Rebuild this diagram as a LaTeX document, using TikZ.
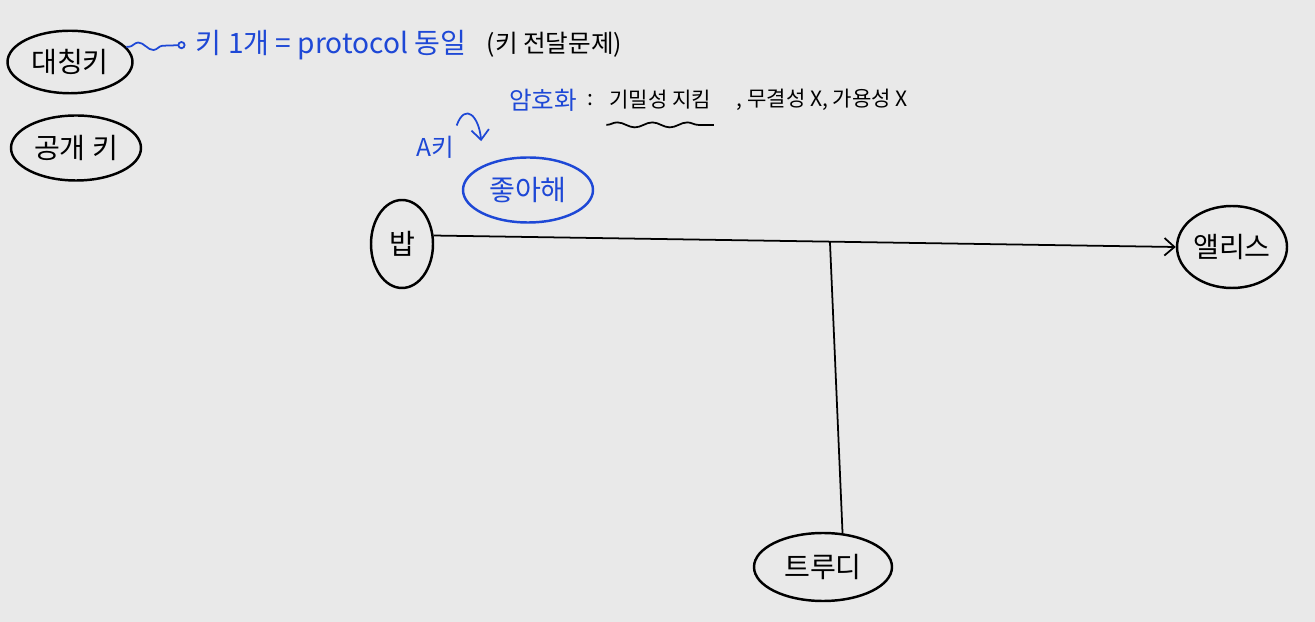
\documentclass[tikz,border=0pt]{standalone}
\usepackage{fontspec}
\setmainfont{Noto Sans CJK KR}
\usepackage{tikz}
\usetikzlibrary{positioning, shapes.geometric, decorations.pathmorphing, arrows.meta}
\definecolor{pen}{RGB}{30,72,214}
\definecolor{board}{RGB}{233,233,233}
\tikzset{%
	person/.style={draw, ellipse, line width=1.4pt, inner sep=0mm, font=\fontsize{16}{18}\selectfont},
	topic/.style={person, minimum width=25mm, minimum height=12.5mm},
	msg/.style={person, draw=pen, text=pen},
	memo/.style={inner sep=0.5mm, font=\fontsize{14}{16}\selectfont},
	bluememo/.style={memo, text=pen},
	small/.style={memo, font=\fontsize{12}{14}\selectfont},
	wire/.style={line width=1pt},
	sel/.style={wire, -{Straight Barb[length=2mm,width=3.5mm]}},
	wave/.style={decorate, decoration={snake, amplitude=0.5mm, segment length=7mm}}
}

\begin{document}
\begin{tikzpicture}[x=0.2mm, y=-0.2mm]
	\fill[board] (0,0) rectangle (1315,622);
	\useasboundingbox (0,0) rectangle (1315,622);

	% kinds of keys
	\node[topic] (sym) at (70,62) {대칭키};
	\node[topic, minimum width=26mm, minimum height=13mm] (pub) at (76,148) {공개 키};
	\node[bluememo, font=\fontsize{16}{18}\selectfont] (onekey) at (331,45) {키 1개 = protocol 동일};
	\node[memo, right=3mm of onekey] (handoff) {(키 전달문제)};

	% encryption note
	\node[bluememo] (enc) at (543,100) {암호화};
	\node[small, right=1mm of enc] (eq) {:};
	\node[small, right=2mm of eq] (secret) {기밀성 지킴};
	\node[small, right=4mm of secret] (lack) {, 무결성 X, 가용성 X};
	\node[bluememo] (akey) at (435,147) {A키};
	\node[msg, minimum width=26mm, minimum height=13mm] (like) at (528,190) {좋아해};

	% people
	\node[person, minimum width=12.4mm, minimum height=17.6mm] (bob) at (402,244) {밥};
	\node[person, minimum width=22mm, minimum height=16.4mm] (alice) at (1232,247) {앨리스};
	\node[person, minimum width=27.6mm, minimum height=13.6mm] (trudy) at (823,567) {트루디};

	\draw[pen, wire, decorate, decoration={snake, amplitude=0.8mm, segment length=6mm, pre length=0.5mm, post length=2mm},
		-{Circle[open, length=1.6mm]}] (sym.15) -- ([xshift=-1.5mm]onekey.west);
	\draw[wire, wave] ([yshift=-2.5mm]secret.south west) -- ([yshift=-2.5mm]secret.south east);
	\draw[sel, pen] ([yshift=1.5mm]akey.north east) to[out=70, in=95, looseness=2.2] ([yshift=5mm]like.north west);

	\draw[sel] (bob.15) -- coordinate[pos=0.534] (tap) (alice.west);
	\draw[wire] (tap) -- (trudy.60);
\end{tikzpicture}
\end{document}
